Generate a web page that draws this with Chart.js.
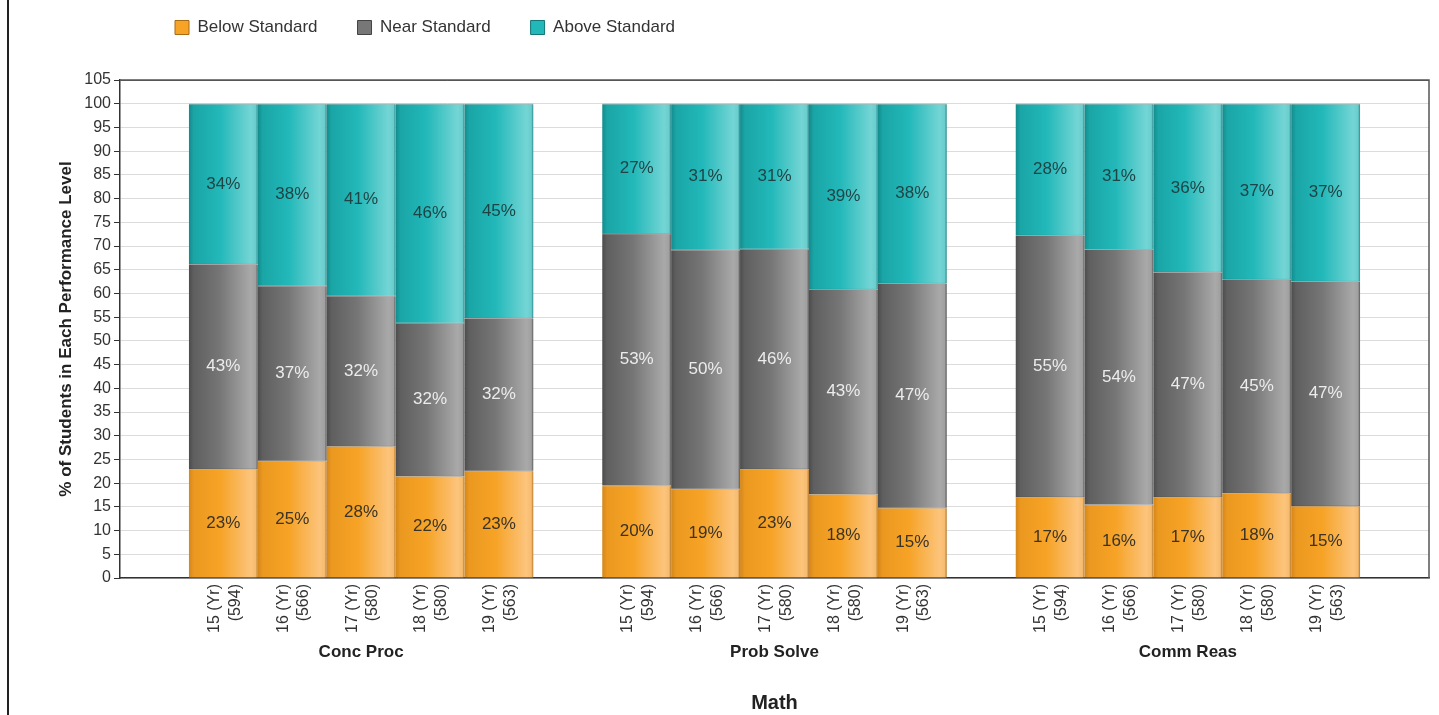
<!DOCTYPE html>
<html>
<head>
<meta charset="utf-8">
<script src="https://cdn.jsdelivr.net/npm/chart.js@4.4.1/dist/chart.umd.min.js"></script>
<style>
  html, body { margin: 0; background: #fff; }
  #wrap { position: relative; width: 1439px; height: 715px; }
  #edge { position: absolute; left: 7px; top: 0; width: 2px; height: 715px; background: #222; }
  canvas { position: absolute; left: 0; top: 0; }
</style>
</head>
<body>
<div id="wrap">
  <canvas id="chart" width="1439" height="715"></canvas>
  <div id="edge"></div>
</div>
<script>
const YEARS = ['15 (Yr)', '16 (Yr)', '17 (Yr)', '18 (Yr)', '19 (Yr)']
const COUNTS = ['(594)', '(566)', '(580)', '(580)', '(563)']
const GROUPS = ['Conc Proc', 'Prob Solve', 'Comm Reas']
const SERIES = ['Below Standard', 'Near Standard', 'Above Standard']

// five years per group, groups in GROUPS order
const BELOW = [23.0, 24.7, 27.8, 21.5, 22.6,  19.5, 18.8, 23.0, 17.7, 14.8,  17.1, 15.5, 17.1, 17.9, 15.2]
const NEAR  = [43.2, 36.9, 31.7, 32.3, 32.2,  53.1, 50.4, 46.4, 43.2, 47.4,  55.2, 53.8, 47.4, 45.1, 47.4]
const ABOVE = [33.8, 38.4, 40.5, 46.2, 45.2,  27.4, 30.8, 30.6, 39.1, 37.8,  27.7, 30.7, 35.5, 37.0, 37.4]

const Y_MAX = 105
const Y_STEP = 5

const FONT = '"Liberation Sans", Arial, sans-serif'

// one empty slot before, between and after the groups
const labels = []
const groupLabels = []
const below = [], near = [], above = []
const gap = () => { labels.push(''); groupLabels.push(''); below.push(null); near.push(null); above.push(null) }
GROUPS.forEach((g, gi) => {
  gap()
  YEARS.forEach((yr, i) => {
    const k = gi * YEARS.length + i
    labels.push([yr, COUNTS[i]])
    groupLabels.push(i === 2 ? g : '')
    below.push(BELOW[k])
    near.push(NEAR[k])
    above.push(ABOVE[k])
  })
})
gap()

// horizontal shading across each bar, like the old flash chart
function shade(stops) {
  return (c) => {
    const chart = c.chart
    const x = chart.scales.x
    if (!x || !chart.chartArea) return stops[2][1]
    const mid = x.getPixelForValue(c.dataIndex)
    const w = (x.right - x.left) / labels.length
    const g = chart.ctx.createLinearGradient(mid - w / 2, 0, mid + w / 2, 0)
    stops.forEach(([o, col]) => g.addColorStop(o, col))
    return g
  }
}

const orange = [[0, '#d3861a'], [0.07, '#eb9820'], [0.45, '#f6a326'], [0.9, '#fcc47c'], [0.97, '#f6bb6e'], [1, '#b27426']]
const gray   = [[0, '#4c4c4c'], [0.07, '#5f5f5f'], [0.45, '#767676'], [0.9, '#a9a9a9'], [0.97, '#a0a0a0'], [1, '#555555']]
const teal   = [[0, '#138b8c'], [0.07, '#1aa5a6'], [0.45, '#22b8b9'], [0.9, '#74d5d5'], [0.97, '#69cdce'], [1, '#2a8788']]

const segmentLabels = {
  id: 'segmentLabels',
  afterDatasetsDraw(chart) {
    const ctx = chart.ctx
    ctx.save()
    ctx.font = '17px ' + FONT
    ctx.textAlign = 'center'
    ctx.textBaseline = 'middle'
    chart.data.datasets.forEach((ds, di) => {
      chart.getDatasetMeta(di).data.forEach((bar, i) => {
        const v = ds.data[i]
        if (v == null) return
        const p = bar.getProps(['x', 'y', 'base'], true)
        ctx.fillStyle = ds.labelColor
        ctx.fillText(Math.round(v) + '%', p.x, (p.y + p.base) / 2)
      })
    })
    ctx.restore()
  }
}

const frame = {
  id: 'frame',
  afterDraw(chart) {
    const a = chart.chartArea
    const ctx = chart.ctx
    ctx.save()
    ctx.strokeStyle = '#555'
    ctx.lineWidth = 1.5
    ctx.beginPath()
    ctx.moveTo(a.left, a.top)
    ctx.lineTo(a.right, a.top)
    ctx.lineTo(a.right, a.bottom)
    ctx.stroke()
    ctx.restore()
  }
}

// legend sits above the plot, a bit to the right
const legendSpot = {
  id: 'legendSpot',
  afterLayout(chart) {
    chart.legend.left = 135
    chart.legend.top = -21
  }
}

new Chart(document.getElementById('chart'), {
  type: 'bar',
  data: {
    labels: labels,
    datasets: [
      { label: SERIES[0], data: below, backgroundColor: shade(orange), legendColor: '#f6a326', legendBorder: '#a86a14', labelColor: '#3a3326' },
      { label: SERIES[1], data: near, backgroundColor: shade(gray), legendColor: '#777777', legendBorder: '#444', labelColor: '#ececec' },
      { label: SERIES[2], data: above, backgroundColor: shade(teal), legendColor: '#22b8b9', legendBorder: '#137576', labelColor: '#1f4446' }
    ]
  },
  options: {
    animation: false,
    responsive: false,
    layout: { padding: { left: 40, right: 10, top: 13, bottom: 0 } },
    datasets: {
      bar: {
        barPercentage: 1,
        categoryPercentage: 1,
        borderWidth: { top: 1, left: 0, right: 0, bottom: 0 },
        borderColor: 'rgba(40,40,40,0.35)',
        borderSkipped: 'start'
      }
    },
    plugins: {
      tooltip: { enabled: false },
      legend: {
        position: 'top',
        align: 'start',
        labels: {
          boxWidth: 14,
          boxHeight: 14,
          padding: 40,
          color: '#333',
          font: { family: FONT, size: 17 },
          generateLabels(chart) {
            return chart.data.datasets.map((ds, i) => ({
              text: ds.label,
              fillStyle: ds.legendColor,
              strokeStyle: ds.legendBorder,
              lineWidth: 1,
              datasetIndex: i,
              fontColor: '#333'
            }))
          }
        }
      }
    },
    scales: {
      x: {
        stacked: true,
        grid: { display: false, drawTicks: false },
        border: { color: '#333', width: 1.5 },
        ticks: {
          autoSkip: false,
          minRotation: 90,
          maxRotation: 90,
          padding: 6,
          labelOffset: -9,
          color: '#333',
          font: { family: FONT, size: 16, lineHeight: 1.3 }
        },
        afterFit(s) { s.height = 64 }
      },
      x2: {
        type: 'category',
        position: 'bottom',
        labels: groupLabels,
        offset: true,
        grid: { display: false, drawTicks: false },
        border: { display: false },
        ticks: {
          autoSkip: false,
          maxRotation: 0,
          padding: 0,
          color: '#222',
          font: { family: FONT, size: 17, weight: 'bold' }
        },
        title: {
          display: true,
          text: 'Math',
          color: '#222',
          padding: { top: 0, bottom: 0 },
          font: { family: FONT, size: 20, weight: 'bold' }
        },
        afterFit(s) { s.height = 73 }
      },
      y: {
        stacked: true,
        min: 0,
        max: Y_MAX,
        grid: {
          color: (c) => (c.tick && c.tick.value === Y_MAX ? '#555' : '#dcdcdc'),
          tickColor: '#333',
          tickLength: 6
        },
        border: { color: '#333', width: 1.5 },
        ticks: {
          stepSize: Y_STEP,
          padding: 3,
          color: '#333',
          font: { family: FONT, size: 16 }
        },
        title: {
          display: true,
          text: '% of Students in Each Performance Level',
          color: '#222',
          padding: { top: 16, bottom: 0 },
          font: { family: FONT, size: 17, weight: 'bold' }
        },
        afterFit(s) { s.width = 80 }
      }
    }
  },
  plugins: [segmentLabels, frame, legendSpot]
})
</script>
</body>
</html>
